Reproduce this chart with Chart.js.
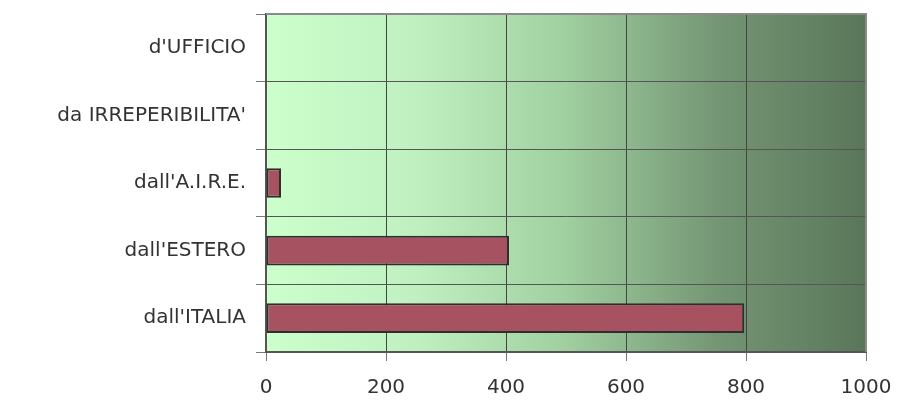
<!DOCTYPE html>
<html>
<head>
<meta charset="utf-8">
<script src="https://cdn.jsdelivr.net/npm/chart.js@4"></script>
<style>
  html, body { margin: 0; padding: 0; background: #fff; }
  #wrap { width: 898px; height: 407px; position: relative; }
</style>
</head>
<body>
<div id="wrap"><canvas id="chart"></canvas></div>
<script>
const categories = ["d'UFFICIO", "da IRREPERIBILITA'", "dall'A.I.R.E.", "dall'ESTERO", "dall'ITALIA"];
const values = [0, 0, 25, 405, 797];
const xTicks = [0, 200, 400, 600, 800, 1000];

// green gradient behind the plot area + frame
const plotBackground = {
  id: "plotBackground",
  beforeDraw(chart) {
    const { ctx, chartArea: a } = chart;
    const g = ctx.createLinearGradient(a.left, 0, a.right, 0);
    g.addColorStop(0, "#ccffcc");
    g.addColorStop(0.25, "#c0f0c0");
    g.addColorStop(0.5, "#a0cfa0");
    g.addColorStop(0.75, "#749674");
    g.addColorStop(1, "#5a765a");
    ctx.save();
    ctx.fillStyle = g;
    ctx.fillRect(a.left, a.top, a.right - a.left, a.bottom - a.top);
    ctx.restore();
  },
  afterDatasetsDraw(chart) {
    const { ctx, chartArea: a } = chart;
    ctx.save();
    ctx.strokeStyle = "#8a8a8a";
    ctx.lineWidth = 2;
    ctx.beginPath();
    ctx.moveTo(a.left, a.top);
    ctx.lineTo(a.right, a.top);
    ctx.lineTo(a.right, a.bottom);
    ctx.stroke();
    ctx.restore();
  }
};

new Chart(document.getElementById("chart"), {
  type: "bar",
  data: {
    labels: categories,
    datasets: [{
      data: values,
      backgroundColor: "#a65260",
      borderColor: "#2e2e2e",
      borderWidth: 2,
      borderSkipped: false,
      categoryPercentage: 1,
      barPercentage: 0.44
    }]
  },
  options: {
    indexAxis: "y",
    responsive: true,
    maintainAspectRatio: false,
    animation: false,
    layout: { padding: { top: 14, right: 32, left: 0, bottom: 0 } },
    plugins: { legend: { display: false }, tooltip: { enabled: false } },
    scales: {
      x: {
        min: 0,
        max: 1000,
        afterBuildTicks(scale) { scale.ticks = xTicks.map(v => ({ value: v })); },
        afterFit(scale) {
          scale.height = 55;
          scale.paddingLeft = 0;
          scale.paddingRight = 0;
        },
        grid: { color: "#444", lineWidth: 1, tickLength: 9, tickColor: "#777" },
        border: { color: "#555", width: 2 },
        ticks: {
          padding: 15,
          color: "#333",
          font: { family: "DejaVu Sans", size: 20 },
          callback: v => String(v)
        }
      },
      y: {
        afterFit(scale) {
          scale.width = 266;
          scale.paddingTop = 0;
          scale.paddingBottom = 0;
        },
        grid: { color: "#555", lineWidth: 1, tickLength: 10, tickColor: "#777", offset: true },
        border: { color: "#555", width: 2 },
        ticks: {
          padding: 10,
          color: "#333",
          font: { family: "DejaVu Sans", size: 20 }
        }
      }
    }
  },
  plugins: [plotBackground]
});
</script>
</body>
</html>
